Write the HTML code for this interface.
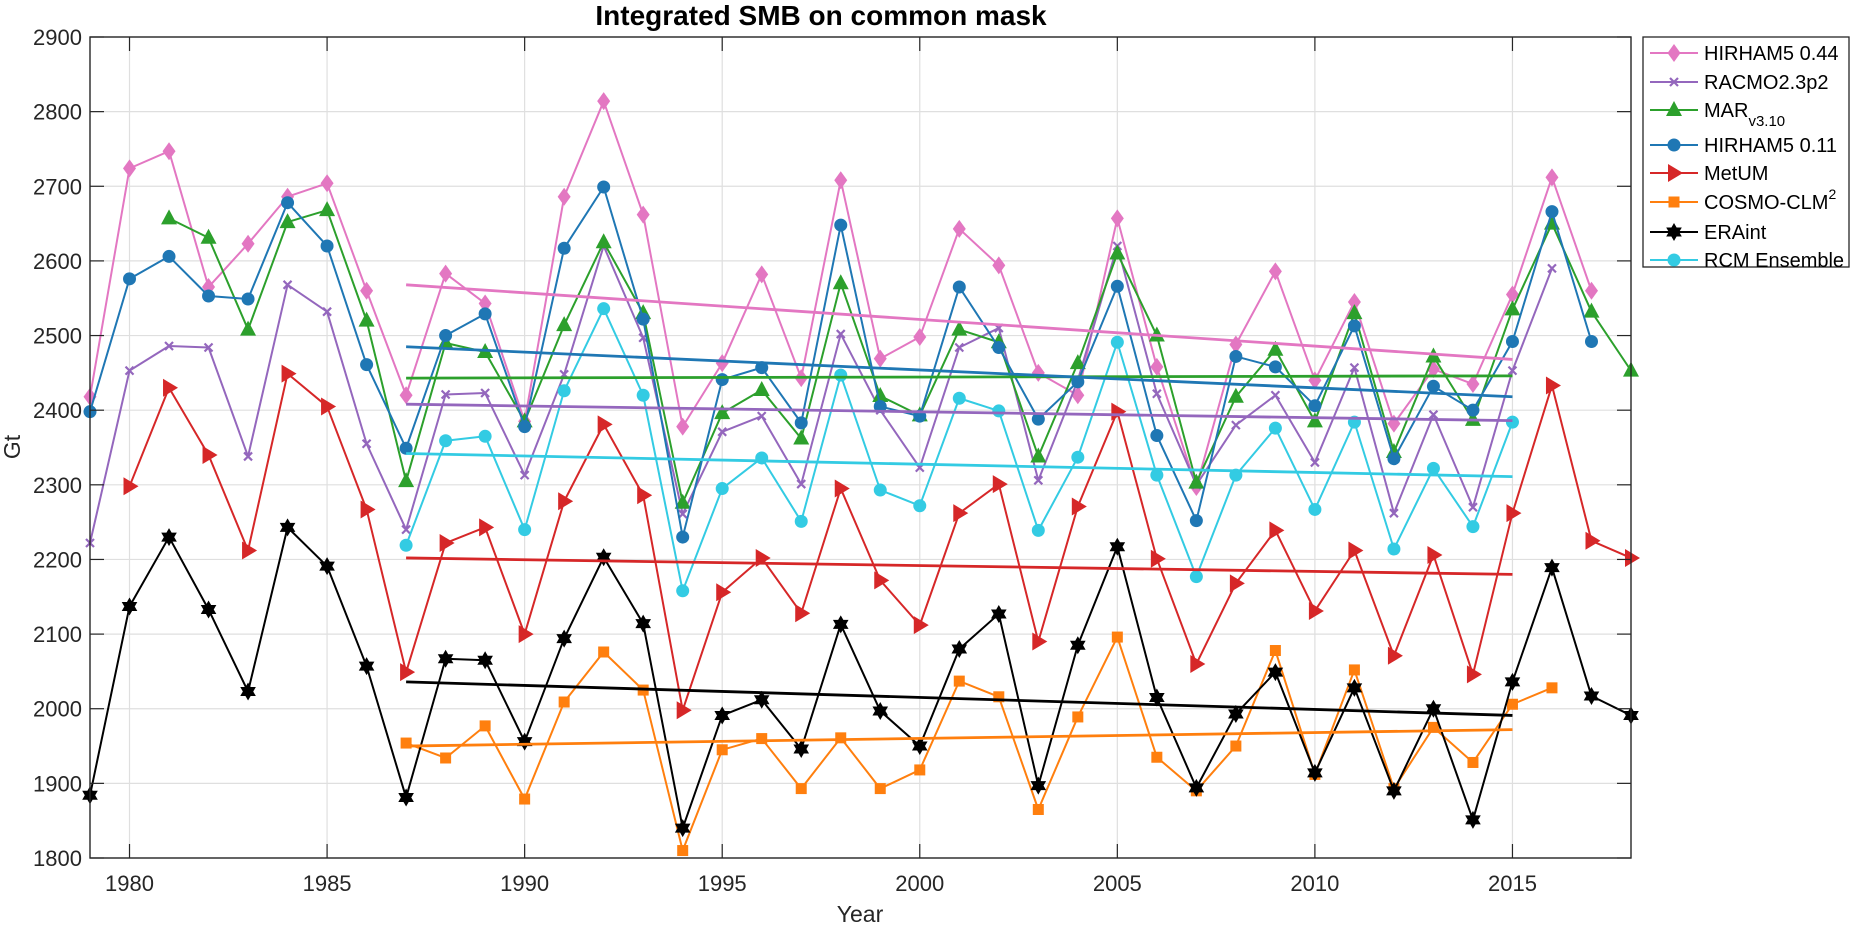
<!DOCTYPE html>
<html><head><meta charset="utf-8"><title>Integrated SMB on common mask</title>
<style>
html,body{margin:0;padding:0;background:#fff;}
svg{display:block;font-family:"Liberation Sans",Arial,sans-serif;}
</style></head>
<body>
<svg id="chart" width="1856" height="925" viewBox="0 0 1856 925" xmlns="http://www.w3.org/2000/svg">
<rect x="0" y="0" width="1856" height="925" fill="#fff"/>
<text x="821" y="25" font-size="28" font-weight="bold" text-anchor="middle" fill="#000">Integrated SMB on common mask</text>
<g id="grid"></g>
<g id="series"></g>
<g id="axes"></g>
<text x="860" y="922" font-size="23" text-anchor="middle" fill="#262626">Year</text>
<text transform="translate(20,447) rotate(-90)" font-size="23" text-anchor="middle" fill="#262626">Gt</text>
<g id="legend"></g>
</svg>
<script>
const yTicks=[1800,1900,2000,2100,2200,2300,2400,2500,2600,2700,2800,2900];
const xTicks=[1980,1985,1990,1995,2000,2005,2010,2015];
const hirham044Start=1979;
const hirham044=[2418,2724,2747,2565,2623,2686,2704,2560,2420,2583,2543,2385,2686,2814,2662,2378,2463,2582,2443,2708,2469,2498,2643,2594,2450,2420,2657,2458,2297,2488,2586,2440,2545,2382,2455,2435,2555,2712,2560];
const racmoStart=1979;
const racmo=[2222,2453,2486,2484,2338,2568,2532,2355,2240,2421,2423,2313,2448,2620,2497,2261,2371,2392,2301,2502,2400,2323,2484,2510,2306,2440,2620,2422,2300,2380,2420,2330,2457,2262,2394,2270,2453,2590];
const marStart=1981;
const mar=[2657,2631,2508,2652,2668,2520,2305,2490,2478,2385,2514,2625,2530,2276,2396,2427,2362,2570,2419,2393,2508,2491,2338,2463,2610,2500,2303,2418,2481,2385,2530,2344,2472,2387,2535,2650,2532,2453];
const hirham011Start=1979;
const hirham011=[2398,2576,2606,2553,2549,2678,2620,2461,2349,2500,2529,2378,2617,2699,2522,2230,2441,2457,2383,2648,2405,2392,2565,2484,2388,2438,2566,2366,2252,2472,2458,2406,2513,2335,2432,2400,2492,2666,2492];
const metumStart=1980;
const metum=[2298,2430,2340,2212,2449,2405,2267,2049,2222,2243,2100,2278,2381,2286,1998,2156,2202,2128,2295,2172,2112,2262,2301,2090,2271,2398,2201,2060,2168,2239,2131,2212,2071,2206,2046,2262,2433,2225,2202];
const cosmoStart=1987;
const cosmo=[1954,1934,1977,1879,2009,2076,2025,1810,1945,1960,1893,1961,1893,1918,2037,2016,1865,1989,2096,1935,1890,1950,2078,1912,2052,1893,1975,1928,2006,2028];
const eraStart=1979;
const era=[1884,2137,2230,2133,2023,2243,2191,2057,1881,2067,2065,1956,2094,2203,2114,1840,1991,2012,1946,2113,1997,1950,2080,2127,1897,2085,2217,2015,1894,1993,2049,1914,2028,1890,2000,1851,2036,2189,2017,1991];
const ensStart=1987;
const ens=[2219,2359,2365,2240,2426,2536,2420,2158,2295,2336,2251,2447,2293,2272,2416,2399,2239,2337,2491,2313,2177,2313,2376,2267,2384,2214,2322,2244,2384];
const trendYears=[1987,2015];
const trendHirham044=[2568,2468];
const trendRacmo=[2408,2386];
const trendMar=[2443,2446];
const trendHirham011=[2485,2418];
const trendMetum=[2202,2180];
const trendCosmo=[1950,1972];
const trendEra=[2036,1991];
const trendEns=[2342,2311];

const NS="http://www.w3.org/2000/svg";
const L=90,R=1631,T=37,B=858;
const X0=1979,X1=2018,Y0=1800,Y1=2900;
function xs(v){return L+(v-X0)/(X1-X0)*(R-L);}
function ys(v){return B-(v-Y0)/(Y1-Y0)*(B-T);}
function mk(tag,attrs,parent){const e=document.createElementNS(NS,tag);for(const k in attrs)e.setAttribute(k,attrs[k]);parent.appendChild(e);return e;}
const grid=document.getElementById('grid'),axes=document.getElementById('axes'),ser=document.getElementById('series'),leg=document.getElementById('legend');

yTicks.forEach(t=>{
  const g=mk('line',{x1:L,x2:R,y1:ys(t),y2:ys(t),stroke:'#dfdfdf','stroke-width':1.2},grid);
  
  
  mk('line',{x1:L,x2:L+14,y1:ys(t),y2:ys(t),stroke:'#262626','stroke-width':1.2},axes);
  mk('line',{x1:R,x2:R-14,y1:ys(t),y2:ys(t),stroke:'#262626','stroke-width':1.2},axes);
  const lb=mk('text',{x:L-8,y:ys(t)+8,'font-size':22,'text-anchor':'end',fill:'#262626'},axes);
  lb.textContent=t;
  
  
});
xTicks.forEach(t=>{
  const g=mk('line',{x1:xs(t),x2:xs(t),y1:T,y2:B,stroke:'#dfdfdf','stroke-width':1.2},grid);
  
  
  mk('line',{x1:xs(t),x2:xs(t),y1:B,y2:B-14,stroke:'#262626','stroke-width':1.2},axes);
  mk('line',{x1:xs(t),x2:xs(t),y1:T,y2:T+14,stroke:'#262626','stroke-width':1.2},axes);
  const lb=mk('text',{x:xs(t),y:B+33,'font-size':22,'text-anchor':'middle',fill:'#262626'},axes);
  lb.textContent=t;
  
  
});
const box=mk('rect',{x:L,y:T,width:R-L,height:B-T,fill:'none',stroke:'#262626','stroke-width':1.4},axes);



function marker(type,x,y,c,parent){
  let e;
  if(type==='diamond'){e=mk('polygon',{points:`${x},${y-9} ${x+6.5},${y} ${x},${y+9} ${x-6.5},${y}`,fill:c},parent);}
  else if(type==='x'){e=mk('path',{d:`M${x-4},${y-4}L${x+4},${y+4}M${x-4},${y+4}L${x+4},${y-4}`,stroke:c,'stroke-width':2.2,fill:'none'},parent);}
  else if(type==='tri'){e=mk('polygon',{points:`${x},${y-9} ${x+8},${y+6} ${x-8},${y+6}`,fill:c},parent);}
  else if(type==='circle'){e=mk('circle',{cx:x,cy:y,r:6.5,fill:c},parent);}
  else if(type==='right'){e=mk('polygon',{points:`${x-6},${y-9} ${x+9},${y} ${x-6},${y+9}`,fill:c},parent);}
  else if(type==='square'){e=mk('rect',{x:x-5.5,y:y-5.5,width:11,height:11,fill:c},parent);}
  else if(type==='star'){e=mk('path',{d:`M${x},${y-9}L${x+7.8},${y+4.5}L${x-7.8},${y+4.5}Z M${x},${y+9}L${x-7.8},${y-4.5}L${x+7.8},${y-4.5}Z`,fill:c,'fill-rule':'nonzero'},parent);}
  return e;
}
const S=[
 {name:'hirham044',label:'HIRHAM5 0.44',c:'#e377c2',m:'diamond',start:hirham044Start,v:hirham044,tr:trendHirham044},
 {name:'racmo',label:'RACMO2.3p2',c:'#9467bd',m:'x',start:racmoStart,v:racmo,tr:trendRacmo},
 {name:'mar',label:'MAR',sub:'v3.10',c:'#2ca02c',m:'tri',start:marStart,v:mar,tr:trendMar},
 {name:'hirham011',label:'HIRHAM5 0.11',c:'#1f77b4',m:'circle',start:hirham011Start,v:hirham011,tr:trendHirham011},
 {name:'metum',label:'MetUM',c:'#d62728',m:'right',start:metumStart,v:metum,tr:trendMetum},
 {name:'cosmo',label:'COSMO-CLM',sup:'2',c:'#ff7f0e',m:'square',start:cosmoStart,v:cosmo,tr:trendCosmo},
 {name:'era',label:'ERAint',c:'#000000',m:'star',start:eraStart,v:era,tr:trendEra},
 {name:'ens',label:'RCM Ensemble',c:'#33cbe3',m:'circle',start:ensStart,v:ens,tr:trendEns}
];
S.forEach(s=>{
  const g=mk('g',{},ser);
  
  
  const pts=s.v.map((v,i)=>xs(s.start+i)+','+ys(v)).join(' ');
  const pl=mk('polyline',{points:pts,fill:'none',stroke:s.c,'stroke-width':2,'stroke-linejoin':'round'},g);
  
  
  s.v.forEach((v,i)=>{
    const m=marker(s.m,xs(s.start+i),ys(v),s.c,g);
    
    
  });
});
S.forEach(s=>{
  const t=mk('line',{x1:xs(trendYears[0]),y1:ys(s.tr[0]),x2:xs(trendYears[1]),y2:ys(s.tr[1]),stroke:s.c,'stroke-width':2.8},ser);
  
  
});
const lb=mk('rect',{x:1643,y:37,width:206,height:230,fill:'#fff',stroke:'#262626','stroke-width':1.3},leg);


const rowY=[53,82,110,145,173,202,232,260];
S.forEach((s,i)=>{
  const y=rowY[i];
  const g=mk('g',{},leg);
  
  
  mk('line',{x1:1650,x2:1698,y1:y,y2:y,stroke:s.c,'stroke-width':2},g);
  marker(s.m,1674,y,s.c,g);
  const t=mk('text',{x:1704,y:y+7,'font-size':20,fill:'#000'},g);
  t.textContent=s.label;
  if(s.sub){const ts=mk('tspan',{'font-size':15,dy:9},t);ts.textContent=s.sub;}
  if(s.sup){const ts=mk('tspan',{'font-size':14,dy:-10},t);ts.textContent=s.sup;}
});
</script>
</body></html>
